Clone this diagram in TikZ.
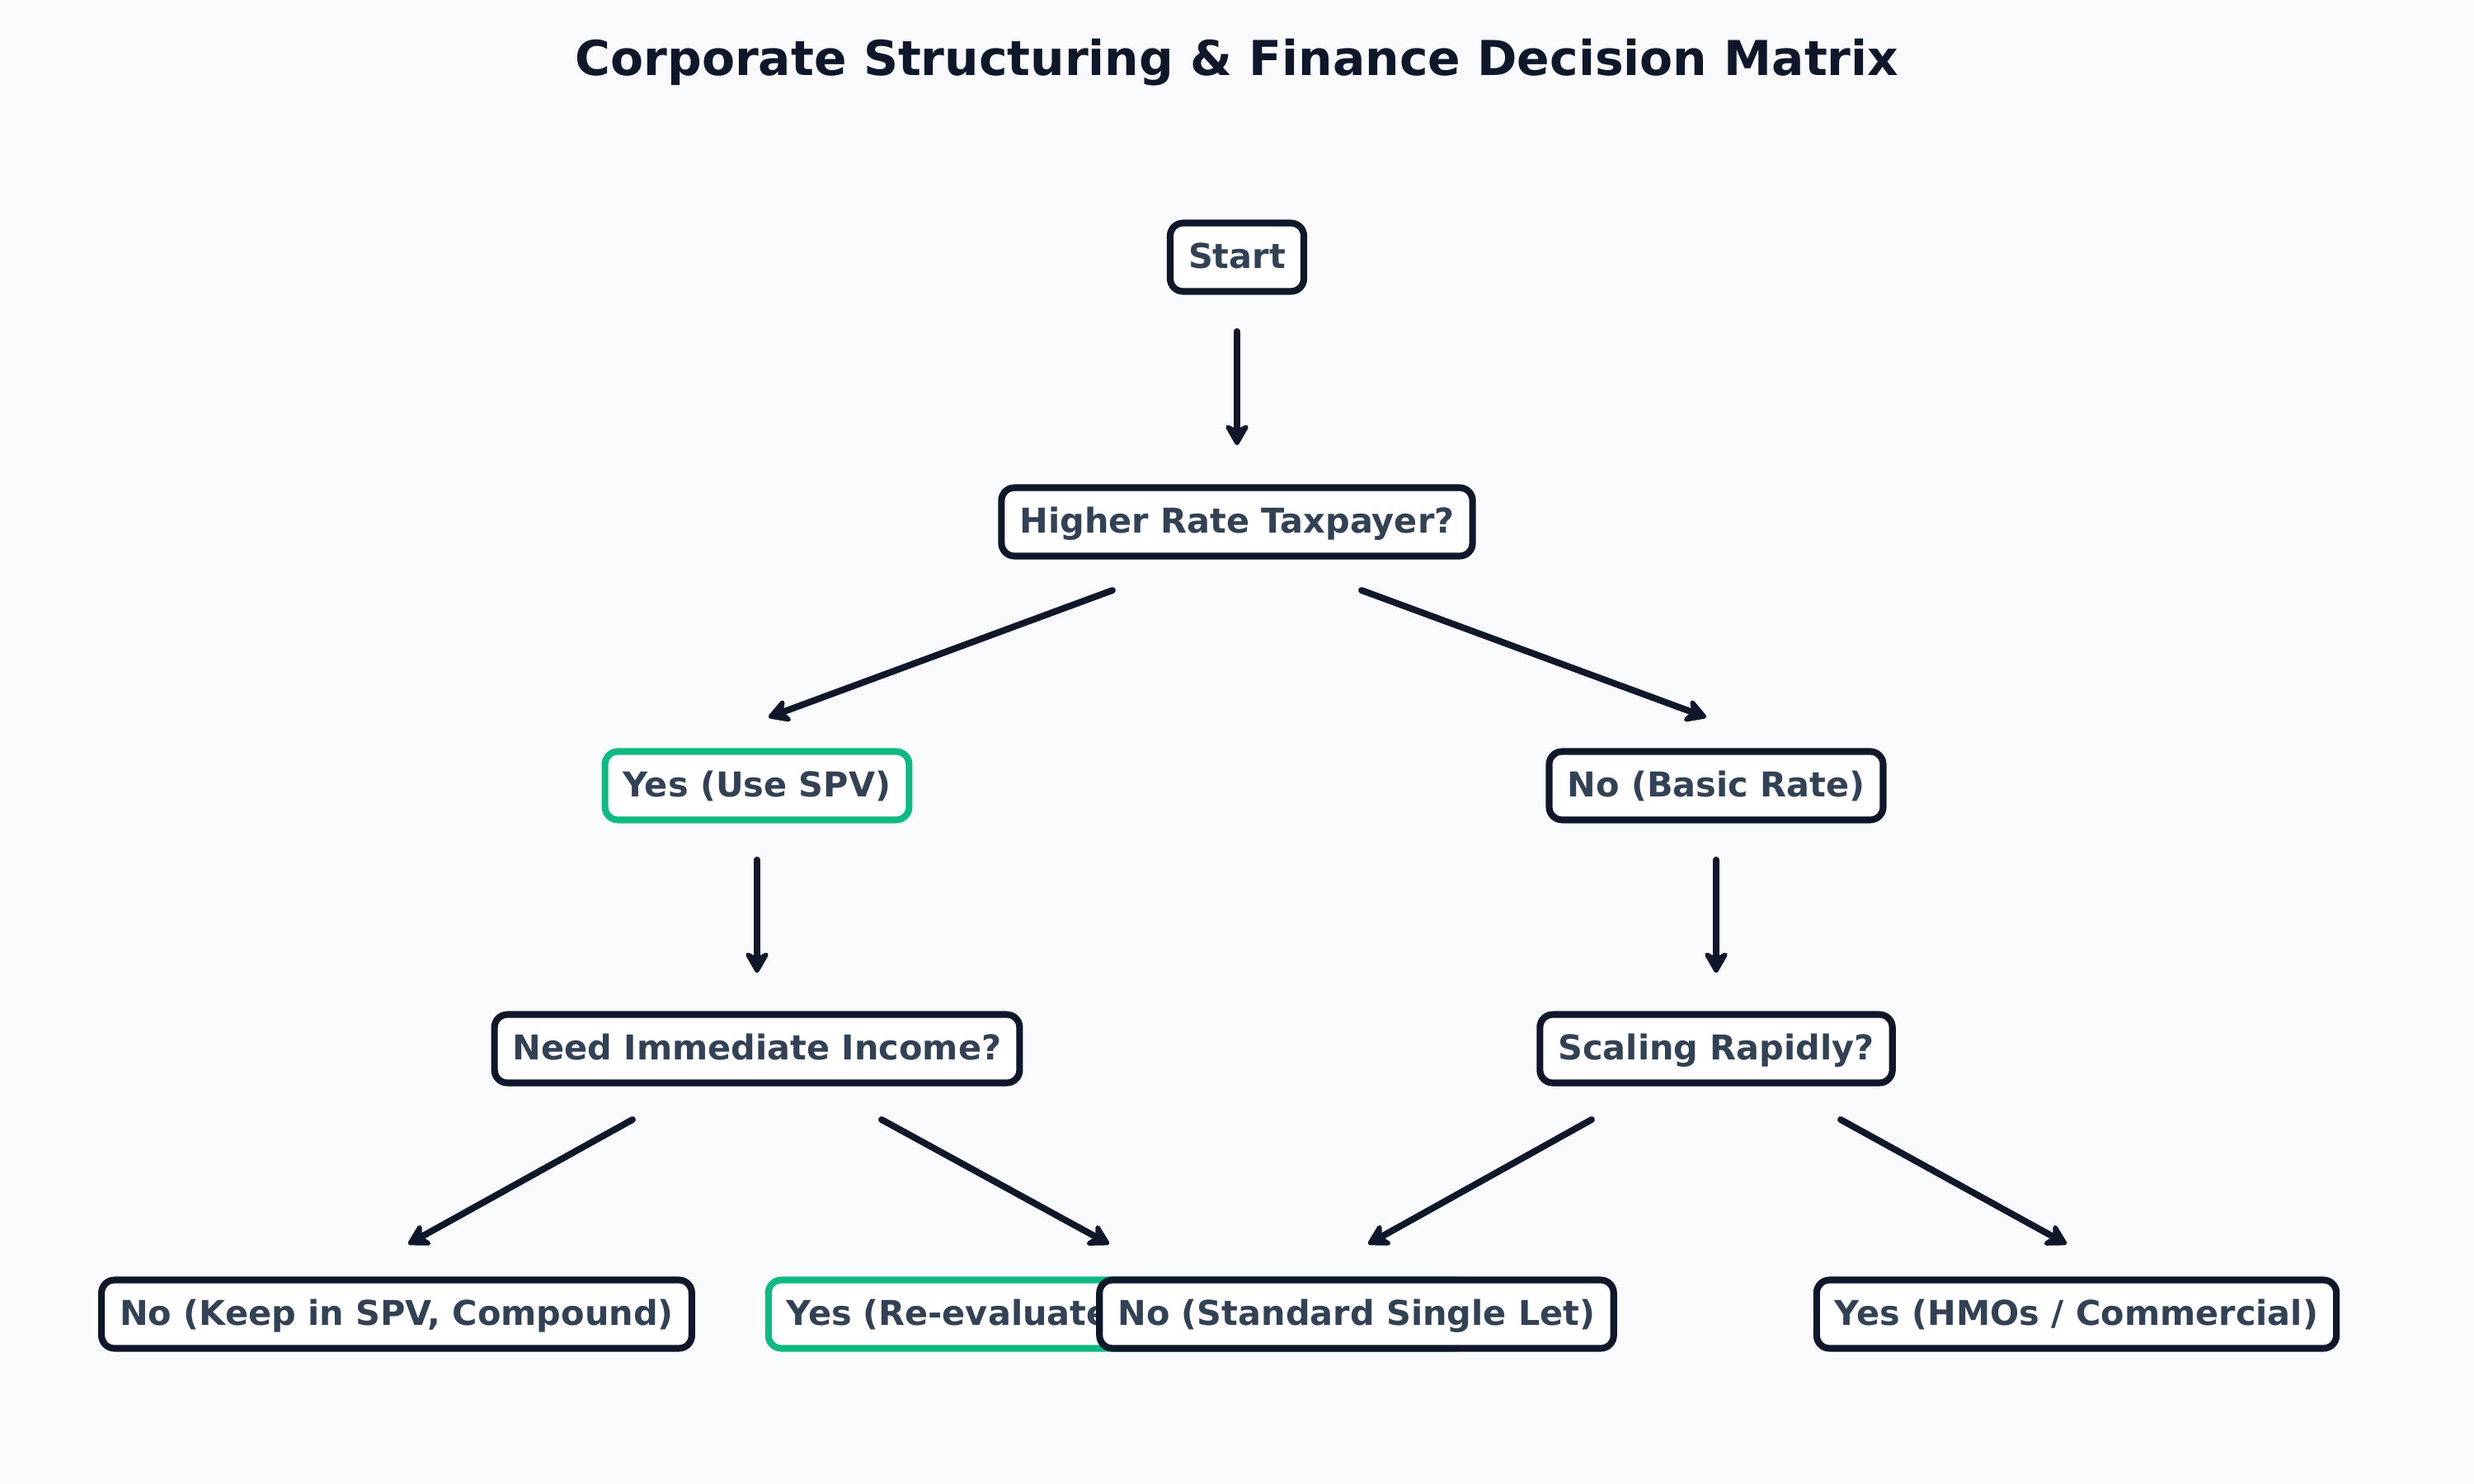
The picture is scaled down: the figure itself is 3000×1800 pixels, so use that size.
\documentclass[tikz,border=0pt]{standalone}
\usepackage{fontspec}
\setmainfont{DejaVu Sans}
\usetikzlibrary{arrows.meta,calc}
\definecolor{bg}{HTML}{F8FAFC}
\definecolor{ink}{HTML}{0F172A}
\definecolor{txt}{HTML}{334155}
\definecolor{grn}{HTML}{10B981}
\begin{document}
\begin{tikzpicture}[x=0.48pt,y=-0.48pt,
  box/.style={draw=ink, line width=3.9pt, fill=white, rounded corners=7.5pt, text=txt,
    font=\fontsize{19.9}{24}\selectfont\bfseries, inner xsep=10.6pt, inner ysep=0pt,
    minimum height=39.8pt, text height=16pt, text depth=3.5pt},
  gbox/.style={box, draw=grn},
  arr/.style={draw=ink, line width=3.8pt, line cap=round,
    -{Stealth[length=15pt,width=17pt,inset=4.5pt,round]}}]
\fill[bg] (0,0) rectangle (3000,1800);
\useasboundingbox (0,0) rectangle (3000,1800);
\node[font=\fontsize{28}{32}\selectfont\bfseries, text=ink, anchor=base] (title) at (1500,92)
  {Corporate Structuring \& Finance Decision Matrix};
\node[box]  (start)  at (1500,312)  {Start};
\node[box]  (hr)     at (1500,633)  {Higher Rate Taxpayer?};
\node[gbox] (yes)    at (918,953)   {Yes (Use SPV)};
\node[box]  (no)     at (2081,953)  {No (Basic Rate)};
\node[box]  (need)   at (918,1272)  {Need Immediate Income?};
\node[box]  (scal)   at (2081,1272) {Scaling Rapidly?};
\node[box]  (nokeep) at (481,1594)  {No (Keep in SPV, Compound)};
\node[gbox, text width=386pt, align=left] (yesre) at (1356,1594) {Yes (Re-evaluate};
\node[box]  (nostd)  at (1645,1594) {No (Standard Single Let)};
\node[box]  (hmo)    at (2518,1594) {Yes (HMOs / Commercial)};
\draw[arr] ($(start)+(0,90)$) -- ($(hr)+(0,-93)$);
\draw[arr] ($(hr)+(-151,83)$) -- ($(yes)+(14,-83)$);
\draw[arr] ($(hr)+(151,83)$) -- ($(no)+(-12,-83)$);
\draw[arr] ($(yes)+(0,90)$) -- ($(need)+(0,-92)$);
\draw[arr] ($(no)+(0,90)$) -- ($(scal)+(0,-92)$);
\draw[arr] ($(need)+(-151,86)$) -- ($(nokeep)+(14,-85)$);
\draw[arr] ($(need)+(151,86)$) -- ($(yesre)+(-11,-85)$);
\draw[arr] ($(scal)+(-151,86)$) -- ($(nostd)+(14,-85)$);
\draw[arr] ($(scal)+(151,86)$) -- ($(hmo)+(-12,-85)$);
\end{tikzpicture}
\end{document}
